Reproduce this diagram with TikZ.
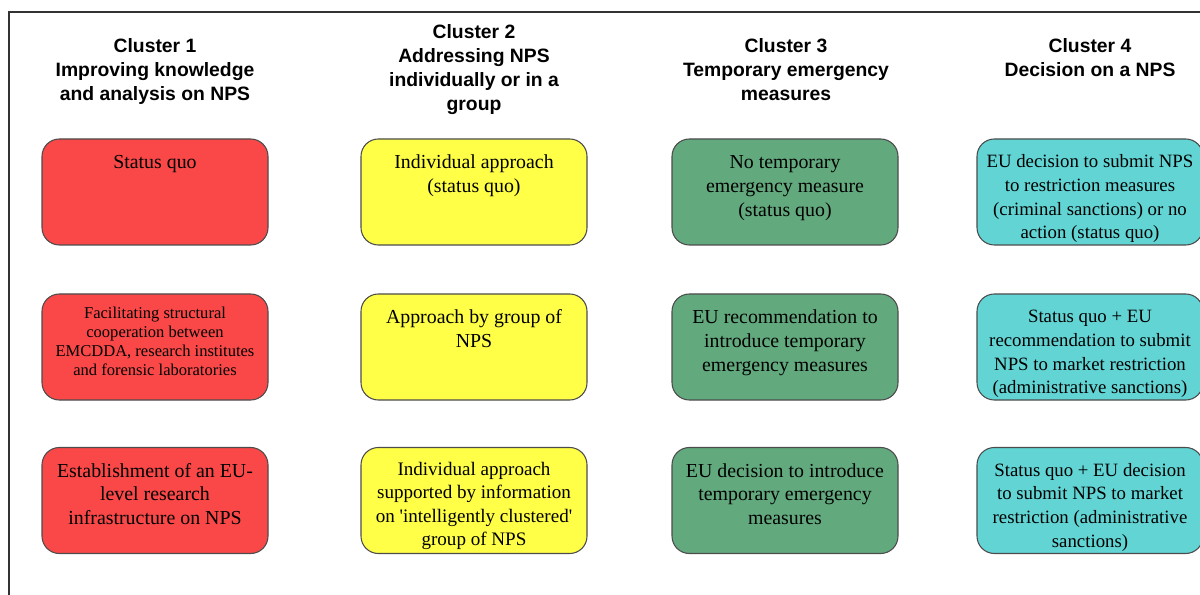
\documentclass[tikz,border=0pt]{standalone}
\usepackage{fontspec}
\setmainfont{Liberation Serif}
\newfontfamily\hdrfont{Liberation Sans}
\definecolor{cred}{RGB}{250,72,72}
\definecolor{cyel}{RGB}{255,255,72}
\definecolor{cgrn}{RGB}{98,170,126}
\definecolor{ccyn}{RGB}{98,212,212}
\definecolor{frame}{RGB}{50,50,50}
\newcommand{\bt}[2][22.3pt]{\parbox[c][79.5pt][t]{169.5pt}{\centering\rule{0pt}{#1}#2}}
\tikzset{
  opt/.style={draw=black!70, line width=0.8pt, rounded corners=13pt, inner sep=0pt, outer sep=0pt,
    font=\fontsize{14.9}{17.8}\selectfont},
  optc/.style={opt, font=\fontsize{14.1}{17.8}\selectfont},
  hdr/.style={anchor=north, align=center, inner sep=0pt, font=\hdrfont\bfseries\fontsize{14.5}{18}\selectfont},
}
\begin{document}
\begin{tikzpicture}[x=0.75pt,y=-0.75pt]
\useasboundingbox (0,0) rectangle (1200,595);
\draw[frame, line width=1.2pt] (9,600) -- (9,12) -- (1205,12);
% headers
\node[hdr] (h1) at (155,35.2) {\strut Cluster 1\\Improving knowledge\\and analysis on NPS};
\node[hdr] (h2) at (474,21.2) {\strut Cluster 2\\Addressing NPS\\individually or in a\\group};
\node[hdr] (h3) at (786,35.2) {\strut Cluster 3\\Temporary emergency\\measures};
\node[hdr] (h4) at (1090,35.2) {\strut Cluster 4\\Decision on a NPS};
% column 1
\node[opt, fill=cred] (a1) at (155,192) {\bt{Status quo}};
\node[opt, fill=cred] (a2) at (155,347) {\bt[18.5pt]{\fontsize{12.4}{14.25}\selectfont Facilitating structural\\cooperation between\\EMCDDA, research institutes\\and forensic laboratories}};
\node[opt, fill=cred] (a3) at (155,500.5) {\bt{Establishment of an EU-\\level research\\infrastructure on NPS}};
% column 2
\node[opt, fill=cyel] (b1) at (474,192) {\bt{Individual approach\\(status quo)}};
\node[opt, fill=cyel] (b2) at (474,347) {\bt{Approach by group of\\NPS}};
\node[opt, fill=cyel] (b3) at (474,500.5) {\bt[20.8pt]{\fontsize{14.3}{17.6}\selectfont Individual approach\\supported by information\\on \textquotesingle intelligently clustered\textquotesingle\\group of NPS}};
% column 3
\node[opt, fill=cgrn] (c1) at (785,192) {\bt{No temporary\\emergency measure\\(status quo)}};
\node[opt, fill=cgrn] (c2) at (785,347) {\bt{EU recommendation to\\introduce temporary\\emergency measures}};
\node[opt, fill=cgrn] (c3) at (785,500.5) {\bt{EU decision to introduce\\temporary emergency\\measures}};
% column 4
\node[optc, fill=ccyn] (d1) at (1090,192) {\bt[21.5pt]{EU decision to submit NPS\\to restriction measures\\(criminal sanctions) or no\\action (status quo)}};
\node[optc, fill=ccyn] (d2) at (1090,347) {\bt[21.5pt]{Status quo + EU\\recommendation to submit\\NPS to market restriction\\(administrative sanctions)}};
\node[optc, fill=ccyn] (d3) at (1090,500.5) {\bt[21.5pt]{Status quo + EU decision\\to submit NPS to market\\restriction (administrative\\sanctions)}};
\end{tikzpicture}
\end{document}
